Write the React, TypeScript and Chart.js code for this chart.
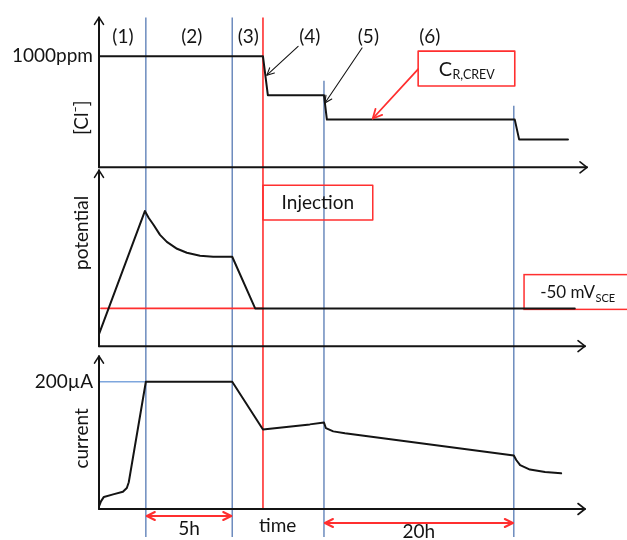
import React, { useEffect, useRef } from "react";
import { Chart, registerables } from "chart.js";

Chart.register(...registerables);

const FONT = "Lato, 'Open Sans', 'DejaVu Sans', sans-serif";
const INK = "#141414";
const BLUE = "#6283b9";
const LIGHT_BLUE = "#7ea6dd";
const RED = "#ff2f2f";

// ---- time axis (arbitrary units) ----
const timeMax = 100;
const phaseBoundaries = [9.6, 27.3, 46.1, 85.0];
const phaseLineTopCl = [null, null, 780, 555]; // where the phase lines start, on the [Cl-] scale
const injectionTime = 33.6;
const phaseLabels = ["(1)", "(2)", "(3)", "(4)", "(5)", "(6)"];
const phaseLabelTimes = [4.9, 19.0, 30.6, 43.2, 55.2, 67.8];

// ---- [Cl-] (ppm) ----
const clTime = [0, 33.6, 34.6, 46.1, 46.7, 85.2, 86.1, 96.1];
const clValues = [1000, 1000, 650, 650, 430, 430, 250, 250];
const clTicks = [1000];
const clTickLabels = ["1000ppm"];

// ---- potential (mV) ----
const potTime = [0, 9.4, 10.2, 11.2, 12.5, 13.9, 16.0, 18.0, 20.7, 23.4, 27.3, 32.0, 97.5];
const potValues = [-180, 440, 405, 370, 320, 285, 250, 230, 215, 210, 210, -50, -50];
const potHoldTime = [0.4, 33.6];
const potHoldValue = -50;

// ---- current (µA) ----
const curTime = [0, 0.4, 1.0, 2.9, 4.9, 5.7, 6.1, 9.6, 27.3, 33.6, 43.2, 46.1, 46.5, 48.0, 50.4, 85.0, 85.5, 86.3, 88.3, 91.4, 94.7];
const curValues = [4, 12, 19, 23, 27, 33, 42, 200, 200, 125, 133, 136, 127, 122, 119, 84, 77, 69, 62, 58, 56];
const curTicks = [200];
const curTickLabels = ["200µA"];
const curLimitTime = [0, 9.6];

const pts = (xs: number[], ys: number[]) => xs.map((x, i) => ({ x, y: ys[i] }));

function seg(ctx: CanvasRenderingContext2D, x1: number, y1: number, x2: number, y2: number) {
  ctx.beginPath();
  ctx.moveTo(x1, y1);
  ctx.lineTo(x2, y2);
  ctx.stroke();
}

function vHead(ctx: CanvasRenderingContext2D, fx: number, fy: number, tx: number, ty: number, len: number, half: number) {
  const a = Math.atan2(ty - fy, tx - fx);
  const ca = Math.cos(a);
  const sa = Math.sin(a);
  const bx = tx - len * ca;
  const by = ty - len * sa;
  ctx.beginPath();
  ctx.moveTo(bx - half * sa, by + half * ca);
  ctx.lineTo(tx, ty);
  ctx.lineTo(bx + half * sa, by - half * ca);
  ctx.stroke();
}

function arrow(ctx: CanvasRenderingContext2D, fx: number, fy: number, tx: number, ty: number, len: number, half: number) {
  seg(ctx, fx, fy, tx, ty);
  vHead(ctx, fx, fy, tx, ty, len, half);
}

function subText(ctx: CanvasRenderingContext2D, main: string, sub: string, x: number, y: number, mainSize: number, subSize: number, center: boolean) {
  ctx.font = `${mainSize}px ${FONT}`;
  const wm = ctx.measureText(main).width;
  ctx.font = `${subSize}px ${FONT}`;
  const ws = ctx.measureText(sub).width;
  const x0 = center ? x - (wm + ws) / 2 : x;
  ctx.textAlign = "left";
  ctx.textBaseline = "alphabetic";
  ctx.font = `${mainSize}px ${FONT}`;
  ctx.fillText(main, x0, y);
  ctx.font = `${subSize}px ${FONT}`;
  ctx.fillText(sub, x0 + wm + 0.5, y + 3.5);
}

const schematic = {
  id: "schematic",
  beforeDatasetsDraw(chart: any) {
    const { ctx, chartArea, scales } = chart;
    const X = (t: number) => scales.x.getPixelForValue(t);
    const Ycl = (v: number) => scales.yCl.getPixelForValue(v);
    const Ypot = (v: number) => scales.yPot.getPixelForValue(v);
    ctx.save();
    ctx.lineWidth = 1.4;
    ctx.strokeStyle = BLUE;
    phaseBoundaries.forEach((t, i) => {
      const top = phaseLineTopCl[i] == null ? chartArea.top : Ycl(phaseLineTopCl[i] as number);
      seg(ctx, X(t), top, X(t), chart.height - 3);
    });
    ctx.strokeStyle = RED;
    ctx.lineWidth = 1.6;
    seg(ctx, X(injectionTime), chartArea.top, X(injectionTime), chartArea.bottom - 1);

    // -50 mV_SCE box (behind the potential trace)
    ctx.lineWidth = 1.5;
    const px1 = X(87.1), py1 = Ypot(120), py2 = Ypot(-55);
    ctx.fillStyle = "#fff";
    ctx.fillRect(px1, py1, chart.width + 10 - px1, py2 - py1);
    ctx.strokeRect(px1, py1, chart.width + 10 - px1, py2 - py1);
    ctx.fillStyle = INK;
    subText(ctx, "-50 mV", "SCE", X(90.4), Ypot(0), 17, 11, false);
    ctx.restore();
  },
  afterDatasetsDraw(chart: any) {
    const { ctx, chartArea, scales } = chart;
    const X = (t: number) => scales.x.getPixelForValue(t);
    const Ycl = (v: number) => scales.yCl.getPixelForValue(v);
    const Ypot = (v: number) => scales.yPot.getPixelForValue(v);
    const Ycur = (v: number) => scales.yCur.getPixelForValue(v);
    const left = chartArea.left;
    ctx.save();
    ctx.lineCap = "round";
    ctx.lineJoin = "round";

    // axes with arrow heads
    ctx.strokeStyle = INK;
    ctx.lineWidth = 2;
    const panels = [
      { s: scales.yCl, gap: 0, tip: chartArea.right },
      { s: scales.yPot, gap: 3, tip: chartArea.right - 2 },
      { s: scales.yCur, gap: 10, tip: chartArea.right - 2 },
    ];
    panels.forEach(({ s, gap, tip }) => {
      const top = s.top + gap;
      const bottom = s.bottom;
      seg(ctx, left, bottom, left, top);
      ctx.lineWidth = 1.6;
      vHead(ctx, left, bottom, left, top, 7, 4.5);
      ctx.lineWidth = 2;
      seg(ctx, left, bottom, tip, bottom);
      ctx.lineWidth = 1.6;
      vHead(ctx, left, bottom, tip, bottom, 7, 5.5);
      ctx.lineWidth = 2;
    });

    // rotated axis titles
    ctx.fillStyle = INK;
    ctx.textAlign = "center";
    ctx.textBaseline = "middle";
    ctx.font = `19px ${FONT}`;
    const titles: [string, number][] = [
      ["[Cl⁻]", Ycl(447)],
      ["potential", Ypot(330)],
      ["current", Ycur(111)],
    ];
    titles.forEach(([txt, y]) => {
      ctx.save();
      ctx.translate(left - 17, y);
      ctx.rotate(-Math.PI / 2);
      ctx.fillText(txt, 0, 0);
      ctx.restore();
    });

    // phase labels
    ctx.font = `19px ${FONT}`;
    phaseLabels.forEach((lbl, i) => {
      ctx.fillText(lbl, X(phaseLabelTimes[i]), Ycl(1175));
    });

    // pointers (4), (5)
    ctx.strokeStyle = INK;
    ctx.lineWidth = 1.1;
    arrow(ctx, X(40.8), Ycl(1090), X(34.4), Ycl(830), 7, 3.5);
    arrow(ctx, X(53.9), Ycl(1075), X(46.3), Ycl(580), 7, 3.5);

    // C_R,CREV box + red arrow
    ctx.strokeStyle = RED;
    ctx.lineWidth = 1.6;
    const bx1 = X(65.4), bx2 = X(85.2), by1 = Ycl(1046), by2 = Ycl(733);
    ctx.strokeRect(bx1, by1, bx2 - bx1, by2 - by1);
    ctx.lineWidth = 1.8;
    arrow(ctx, bx1, Ycl(885), X(56.1), Ycl(440), 9, 4.5);
    ctx.fillStyle = INK;
    subText(ctx, "C", "R,CREV", (bx1 + bx2) / 2, (by1 + by2) / 2 + 7, 20, 12.5, true);

    // Injection box
    ctx.strokeStyle = RED;
    ctx.lineWidth = 1.5;
    const ix1 = X(injectionTime), ix2 = X(56.1), iy1 = Ypot(570), iy2 = Ypot(395);
    ctx.strokeRect(ix1, iy1, ix2 - ix1, iy2 - iy1);
    ctx.fillStyle = INK;
    ctx.font = `19px ${FONT}`;
    ctx.textAlign = "center";
    ctx.textBaseline = "middle";
    ctx.fillText("Injection", (ix1 + ix2) / 2, (iy1 + iy2) / 2);

    // duration arrows under the time axis
    ctx.strokeStyle = RED;
    ctx.lineWidth = 2;
    const b = chartArea.bottom;
    const a5 = b + 7;
    seg(ctx, X(phaseBoundaries[0]) + 1, a5, X(phaseBoundaries[1]) - 1, a5);
    vHead(ctx, X(phaseBoundaries[1]), a5, X(phaseBoundaries[0]) + 1, a5, 8, 4);
    vHead(ctx, X(phaseBoundaries[0]), a5, X(phaseBoundaries[1]) - 1, a5, 8, 4);
    const a20 = b + 14;
    seg(ctx, X(phaseBoundaries[2]) + 1, a20, X(phaseBoundaries[3]) - 1, a20);
    vHead(ctx, X(phaseBoundaries[3]), a20, X(phaseBoundaries[2]) + 1, a20, 8, 4);
    vHead(ctx, X(phaseBoundaries[2]), a20, X(phaseBoundaries[3]) - 1, a20, 8, 4);

    ctx.fillStyle = INK;
    ctx.font = `19px ${FONT}`;
    ctx.textAlign = "center";
    ctx.textBaseline = "alphabetic";
    ctx.fillText("5h", (X(phaseBoundaries[0]) + X(phaseBoundaries[1])) / 2, b + 26);
    ctx.fillText("time", X(36.6), b + 23);
    ctx.fillText("20h", (X(phaseBoundaries[2]) + X(phaseBoundaries[3])) / 2, b + 29);

    ctx.restore();
  },
};

export default function App() {
  const ref = useRef<HTMLCanvasElement>(null);

  useEffect(() => {
    const canvas = ref.current;
    if (!canvas) return;
    const lineDs = (label: string, data: any[], yAxisID: string, color: string, width: number, order: number) => ({
      label,
      data,
      yAxisID,
      xAxisID: "x",
      borderColor: color,
      borderWidth: width,
      pointRadius: 0,
      tension: 0,
      fill: false,
      order,
      borderJoinStyle: "round" as const,
      borderCapStyle: "round" as const,
    });
    const chart = new Chart(canvas, {
      type: "line",
      data: {
        datasets: [
          lineDs("[Cl-]", pts(clTime, clValues), "yCl", INK, 2, 0),
          lineDs("potential", pts(potTime, potValues), "yPot", INK, 2, 0),
          lineDs("current", pts(curTime, curValues), "yCur", INK, 2, 0),
          lineDs("-50 mV", pts(potHoldTime, [potHoldValue, potHoldValue]), "yPot", RED, 1.6, 5),
          lineDs("200 µA", pts(curLimitTime, [200, 200]), "yCur", LIGHT_BLUE, 1.4, 5),
        ],
      },
      options: {
        responsive: false,
        animation: false,
        devicePixelRatio: 1,
        events: [],
        layout: { padding: { left: 0, top: 14, right: 40, bottom: 31 } },
        plugins: { legend: { display: false }, tooltip: { enabled: false } },
        scales: {
          x: { type: "linear", min: 0, max: timeMax, display: false },
          yCl: {
            type: "linear",
            position: "left",
            stack: "panels",
            stackWeight: 151,
            weight: 3,
            min: 0,
            max: 1350,
            grid: { display: false, drawTicks: false },
            border: { display: false },
            afterBuildTicks: (s: any) => {
              s.ticks = clTicks.map((v) => ({ value: v }));
            },
            ticks: {
              callback: (v: any) => clTickLabels[clTicks.indexOf(Number(v))] ?? "",
              font: { family: FONT, size: 19 },
              color: INK,
              padding: 6,
            },
            afterFit: (s: any) => {
              s.width = 99;
            },
          },
          yPot: {
            type: "linear",
            position: "left",
            stack: "panels",
            stackWeight: 180,
            weight: 2,
            min: -240,
            max: 660,
            grid: { display: false, drawTicks: false },
            border: { display: false },
            ticks: { display: false },
            afterFit: (s: any) => {
              s.width = 99;
            },
          },
          yCur: {
            type: "linear",
            position: "left",
            stack: "panels",
            stackWeight: 164,
            weight: 1,
            min: 0,
            max: 256,
            grid: { display: false, drawTicks: false },
            border: { display: false },
            afterBuildTicks: (s: any) => {
              s.ticks = curTicks.map((v) => ({ value: v }));
            },
            ticks: {
              callback: (v: any) => curTickLabels[curTicks.indexOf(Number(v))] ?? "",
              font: { family: FONT, size: 19 },
              color: INK,
              padding: 6,
            },
            afterFit: (s: any) => {
              s.width = 99;
            },
          },
        },
      } as any,
      plugins: [schematic],
    });
    return () => chart.destroy();
  }, []);

  return (
    <div style={{ position: "fixed", left: 0, top: 0, width: 627, height: 540, background: "#fff" }}>
      <canvas ref={ref} width={627} height={540} style={{ display: "block", width: 627, height: 540 }} />
    </div>
  );
}
